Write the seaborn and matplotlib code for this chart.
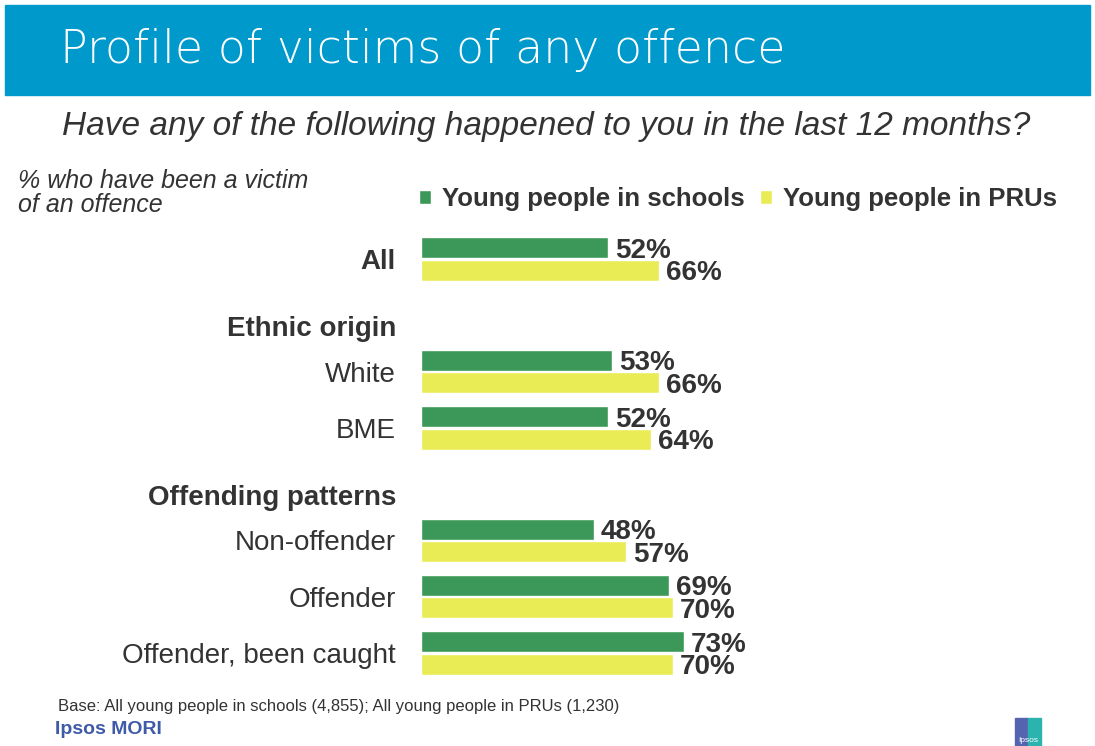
import matplotlib
matplotlib.use("Agg")
import matplotlib.pyplot as plt
from matplotlib.patches import Rectangle
import numpy as np
import pandas as pd
import seaborn as sns

# Row labels (headers have no bars)
categories = ["All", "Ethnic origin", "White", "BME", "Offending patterns",
              "Non-offender", "Offender", "Offender, been caught"]
header_rows = ["All", "Ethnic origin", "Offending patterns"]
bar_rows = ["All", "White", "BME", "Non-offender", "Offender", "Offender, been caught"]
schools = [52, 53, 52, 48, 69, 73]
prus = [66, 66, 64, 57, 70, 70]
series = ["Young people in schools", "Young people in PRUs"]

GREEN = "#3C9858"
YELLOW = "#E9EC55"
TEXT = "#333333"
BLUE = "#0099CC"

df = pd.DataFrame({
    "row": bar_rows * 2,
    "group": [series[0]] * len(bar_rows) + [series[1]] * len(bar_rows),
    "value": schools + prus,
})

sns.set_theme(style="white")
plt.rcParams["font.family"] = ["Liberation Sans", "DejaVu Sans"]

W, H = 1095, 746
fig = plt.figure(figsize=(W / 100, H / 100), dpi=100)

# Title banner
fig.patches.append(Rectangle((5 / W, 1 - 95 / H), 1085 / W, 90 / H,
                             transform=fig.transFigure, color=BLUE, zorder=0))
fig.text(60 / W, 1 - 50 / H, "Profile of victims of any offence", color="white",
         fontsize=33, family=["DejaVu Sans"], fontweight="light", va="center", ha="left")

fig.text(546 / W, 1 - 127 / H,
         "Have any of the following happened to you in the last 12 months?",
         fontsize=24, style="italic", color=TEXT, ha="center", va="center")

fig.text(18 / W, 1 - 193 / H, "% who have been a victim\nof an offence",
         fontsize=18, style="italic", color=TEXT, ha="left", va="center",
         linespacing=0.95)

ax = fig.add_axes([421 / W, 1 - 681 / H, 360 / W, 450 / H])
sns.barplot(data=df, x="value", y="row", hue="group", order=categories,
            hue_order=series, palette=[GREEN, YELLOW], errorbar=None,
            width=0.8, gap=0.06, ax=ax, legend=True, saturation=1)

ax.set_xlim(0, 100)
ax.set_ylim(len(categories) - 0.5, -0.5)
ax.set_xlabel("")
ax.set_ylabel("")
ax.set_xticks([])
for s in ax.spines.values():
    s.set_visible(False)

# Section headers sit a little lower than the evenly spaced rows
pos = np.arange(len(categories), dtype=float)
for i, c in enumerate(categories):
    if c in ("Ethnic origin", "Offending patterns"):
        pos[i] += 0.19
ax.set_yticks(pos, categories)
ax.tick_params(axis="y", length=0, pad=18)
for lab in ax.get_yticklabels():
    lab.set_fontsize(20)
    lab.set_color(TEXT)
    if lab.get_text() in header_rows:
        lab.set_fontweight("bold")

for cont in ax.containers:
    for t in ax.bar_label(cont, fmt="{:.0f}%", padding=5, fontsize=20,
                          fontweight="bold", color=TEXT):
        t.set_va("center_baseline")

handles, labels = ax.get_legend_handles_labels()
ax.legend_.remove()
fig.legend(handles, labels, loc="center left",
           bbox_to_anchor=(419 / W, 1 - 199 / H), ncol=2, frameon=False,
           handlelength=0.45, handleheight=0.45,
           handletextpad=0.45, columnspacing=0.6, borderpad=0, borderaxespad=0,
           prop={"weight": "bold", "size": 18.5}, labelcolor=TEXT)

fig.text(58 / W, 1 - 706 / H,
         "Base: All young people in schools (4,855); All young people in PRUs (1,230)",
         fontsize=12, color=TEXT, ha="left", va="center")
fig.text(55 / W, 1 - 729 / H, "Ipsos MORI", fontsize=14, fontweight="bold",
         color="#3F5BA8", ha="left", va="center")

# Small corporate mark
fig.patches.append(Rectangle((1015 / W, 1 - 746 / H), 13 / W, 28 / H,
                             transform=fig.transFigure, color="#5564B0"))
fig.patches.append(Rectangle((1028 / W, 1 - 746 / H), 13 / W, 28 / H,
                             transform=fig.transFigure, color="#2BB3AE"))
fig.text(1028 / W, 1 - 740 / H, "Ipsos", fontsize=6, color="white",
         ha="center", va="center")

fig.savefig("out.png", dpi=100, facecolor="white")
